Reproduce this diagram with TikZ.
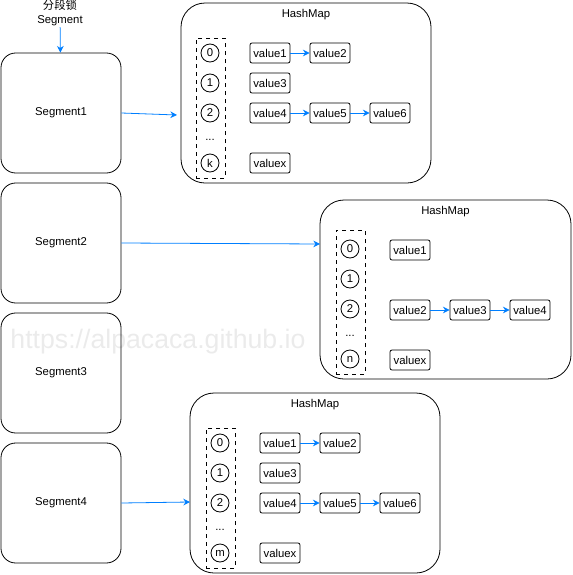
\documentclass[tikz,border=0pt]{standalone}
\usepackage{fontspec}
\setmainfont{Liberation Sans}
\newfontfamily\cjk{Noto Sans CJK SC}
\usetikzlibrary{arrows.meta,positioning}
\definecolor{linkblue}{RGB}{0,127,255}

\begin{document}
\begin{tikzpicture}[
				x=0.75pt, y=-0.75pt,
				line width=0.6pt,
				font=\fontsize{8.5}{10}\selectfont,
				segbox/.style = {draw, rounded corners=11pt, minimum width=90pt, minimum height=90pt, inner sep=0pt},
				mapbox/.style = {draw, rounded corners=18pt, inner sep=0pt},
				slots/.style = {draw, dashed, minimum width=21.75pt, inner sep=0pt},
				slot/.style = {draw, circle, minimum size=13.5pt, inner sep=0pt},
				val/.style = {draw, rounded corners=1.5pt, minimum width=30pt, minimum height=15pt, inner sep=0pt},
				link/.style = {draw=linkblue, -{Stealth[length=5pt,width=5pt]}},
				ptr/.style = {draw=linkblue, -{Stealth[length=5pt,width=5pt]}}
			]
			\useasboundingbox (0,0) rectangle (572,575);
			% watermark
			\node[text=black!8, font=\fontsize{20}{20}\selectfont] (mark) at (158,342) {https://alpacaca.github.io};
			% segments
			\node[segbox] (seg1) at (61,113) {Segment1};
			\node[segbox] (seg2) at (61,243) {Segment2};
			\node[segbox] (seg3) at (61,373) {Segment3};
			\node[segbox] (seg4) at (61,503) {Segment4};
			\node[align=center, inner sep=1pt] (seglbl) at (60,13) {{\cjk 分段锁}\\Segment};
			\draw[ptr] (seglbl) -- (seg1);
			% first map
			\node[mapbox, minimum width=187.5pt, minimum height=135pt] (map1) at (306,93) {};
			\node[below=1.5pt of map1.north] (t1) {HashMap};
			\node[slots, minimum height=105pt] (s1) at (210.5,108) {};
			\node[slot] (a0) at (210,53) {0};
			\node[slot] (a1) at (210,83) {1};
			\node[slot] (a2) at (210,113) {2};
			\node (ad) at (210,140) {...};
			\node[slot] (ak) at (210,163) {k};
			\node[val] (a01) at (270,53) {value1};
			\node[val] (a02) at (330,53) {value2};
			\node[val] (a11) at (270,83) {value3};
			\node[val] (a21) at (270,113) {value4};
			\node[val] (a22) at (330,113) {value5};
			\node[val] (a23) at (390,113) {value6};
			\node[val] (ak1) at (270,163) {valuex};
			\draw[link] (a01) -- (a02);
			\draw[link] (a21) -- (a22);
			\draw[link] (a22) -- (a23);
			% second map
			\node[mapbox, minimum width=188.25pt, minimum height=134.25pt] (map2) at (445.5,289.5) {};
			\node[below=1.5pt of map2.north] (t2) {HashMap};
			\node[slots, minimum height=108pt] (s2) at (350.5,302) {};
			\node[slot] (b0) at (350,249) {0};
			\node[slot] (b1) at (350,279) {1};
			\node[slot] (b2) at (350,309) {2};
			\node (bd) at (350,336) {...};
			\node[slot] (bn) at (350,359) {n};
			\node[val] (b01) at (410,250) {value1};
			\node[val] (b21) at (410,310) {value2};
			\node[val] (b22) at (470,310) {value3};
			\node[val] (b23) at (530,310) {value4};
			\node[val] (bn1) at (410,360) {valuex};
			\draw[link] (b21) -- (b22);
			\draw[link] (b22) -- (b23);
			% third map
			\node[mapbox, minimum width=187.5pt, minimum height=135pt] (map3) at (315,483) {};
			\node[below=1.5pt of map3.north] (t3) {HashMap};
			\node[slots, minimum height=105pt] (s3) at (220.5,498) {};
			\node[slot] (c0) at (220,443) {0};
			\node[slot] (c1) at (220,473) {1};
			\node[slot] (c2) at (220,503) {2};
			\node (cd) at (220,530) {...};
			\node[slot] (cm) at (220,553) {m};
			\node[val] (c01) at (280,443) {value1};
			\node[val] (c02) at (340,443) {value2};
			\node[val] (c11) at (280,473) {value3};
			\node[val] (c21) at (280,503) {value4};
			\node[val] (c22) at (340,503) {value5};
			\node[val] (c23) at (400,503) {value6};
			\node[val] (cm1) at (280,553) {valuex};
			\draw[link] (c01) -- (c02);
			\draw[link] (c21) -- (c22);
			\draw[link] (c22) -- (c23);
			% segment to map
			\coordinate (in1) at (177,115);
			\coordinate (in2) at (320,244);
			\coordinate (in3) at (190,502);
			\draw[ptr] (seg1.east) -- (in1);
			\draw[ptr] (seg2.east) -- (in2);
			\draw[ptr] (seg4.east) -- (in3);
		\end{tikzpicture}
\end{document}
